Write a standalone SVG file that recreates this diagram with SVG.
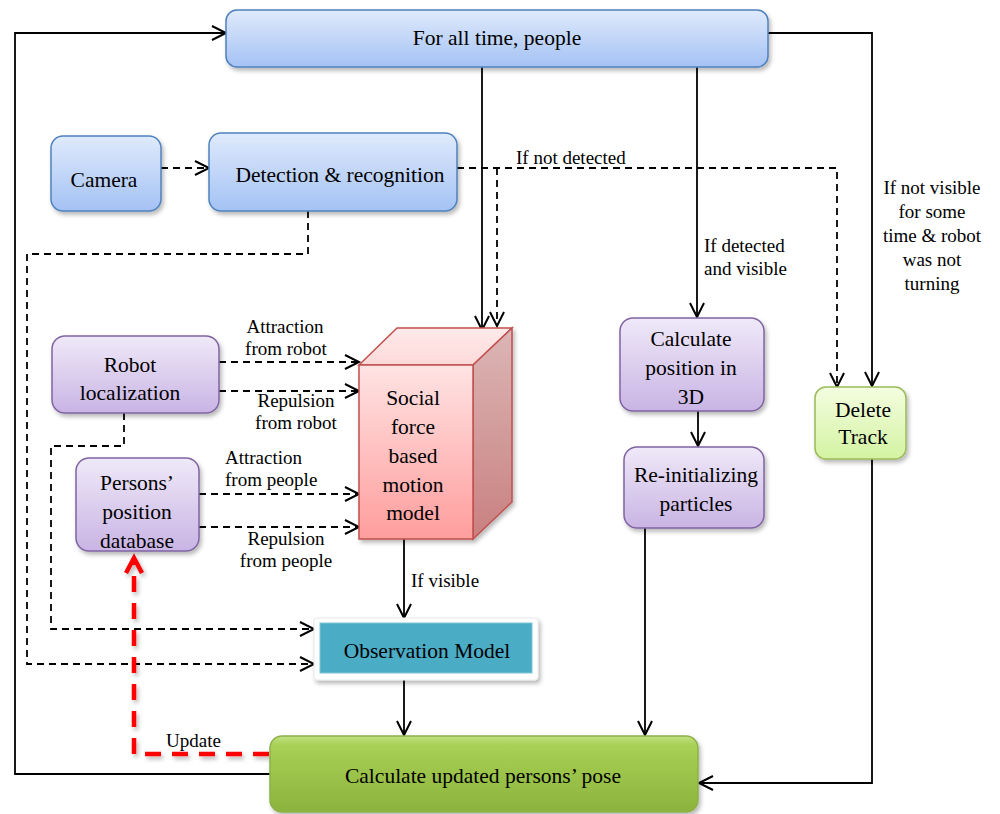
<svg xmlns="http://www.w3.org/2000/svg" width="1000" height="814" viewBox="0 0 1000 814" font-family="'Liberation Serif', Tinos, 'Times New Roman', Times, 'Nimbus Roman', 'Nimbus Roman No9 L', FreeSerif, 'Noto Serif', 'DejaVu Serif', serif">
<defs>
<style>
text{font-family:'Liberation Serif',Tinos,'Times New Roman',Times,'Nimbus Roman','Nimbus Roman No9 L',FreeSerif,'Noto Serif','DejaVu Serif',serif}
.box{font-size:21.5px;fill:#000;text-anchor:middle}
.lbl{font-size:19px;fill:#000}
.mid{text-anchor:middle}
.ln{fill:none;stroke:#000;stroke-width:1.8}
.ds{stroke-dasharray:7 5}
.red{fill:none;stroke:#ff0000;stroke-width:4.5;stroke-dasharray:16 11}
</style>
<linearGradient id="gBlue" x1="0" y1="0" x2="0" y2="1"><stop offset="0" stop-color="#dfeafc"/><stop offset="1" stop-color="#a4c2f4"/></linearGradient>
<linearGradient id="gPurp" x1="0" y1="0" x2="0" y2="1"><stop offset="0" stop-color="#efe9f8"/><stop offset="1" stop-color="#c9b4e4"/></linearGradient>
<linearGradient id="gLime" x1="0" y1="0" x2="0" y2="1"><stop offset="0" stop-color="#f3fde0"/><stop offset="1" stop-color="#d4f3a2"/></linearGradient>
<linearGradient id="gGreen" x1="0" y1="0" x2="0" y2="1"><stop offset="0" stop-color="#c3e184"/><stop offset="0.12" stop-color="#a8d055"/><stop offset="1" stop-color="#8cb33c"/></linearGradient>
<linearGradient id="gFront" x1="0" y1="0" x2="0" y2="1"><stop offset="0" stop-color="#ffe3e3"/><stop offset="1" stop-color="#ff9d9d"/></linearGradient>
<linearGradient id="gTop" x1="0" y1="0" x2="0" y2="1"><stop offset="0" stop-color="#ffeaea"/><stop offset="1" stop-color="#fdd9d9"/></linearGradient>
<linearGradient id="gSide" x1="0" y1="0" x2="0" y2="1"><stop offset="0" stop-color="#dcb6b6"/><stop offset="1" stop-color="#c98080"/></linearGradient>
<filter id="sh" x="-10%" y="-10%" width="130%" height="140%"><feDropShadow dx="2" dy="3" stdDeviation="2" flood-color="#000" flood-opacity="0.28"/></filter>
<marker id="ah" markerWidth="18" markerHeight="18" refX="15" refY="8" orient="auto" markerUnits="userSpaceOnUse"><path d="M1,1 L15,8 L1,15" fill="none" stroke="#000" stroke-width="2"/></marker>
<marker id="ahr" markerWidth="22" markerHeight="22" refX="17" refY="10" orient="auto" markerUnits="userSpaceOnUse"><path d="M2,2 L17,10 L2,18" fill="none" stroke="#ff0000" stroke-width="4.5"/></marker>
</defs>
<rect width="1000" height="814" fill="#fff"/>

<g id="connectors">
<path class="ln" d="M270,774 H15 V33 H226" marker-end="url(#ah)"/>
<path class="ln" d="M482,67 V330" marker-end="url(#ah)"/>
<path class="ln" d="M697,67 V317" marker-end="url(#ah)"/>
<path class="ln" d="M768,33 H872 V386" marker-end="url(#ah)"/>
<path class="ln ds" d="M161,168 H209" marker-end="url(#ah)"/>
<path class="ln ds" d="M457,168 H837 V387" marker-end="url(#ah)"/>
<path class="ln ds" d="M497,168 V326" marker-end="url(#ah)"/>
<path class="ln ds" d="M308,211 V254 H27 V664 H314" marker-end="url(#ah)"/>
<path class="ln ds" d="M219,362 H359" marker-end="url(#ah)"/>
<path class="ln ds" d="M219,391 H359" marker-end="url(#ah)"/>
<path class="ln ds" d="M124,413 V446 H51 V629 H314" marker-end="url(#ah)"/>
<path class="ln ds" d="M199,494 H359" marker-end="url(#ah)"/>
<path class="ln ds" d="M199,527 H359" marker-end="url(#ah)"/>
<path class="ln" d="M404,539 V618" marker-end="url(#ah)"/>
<path class="ln" d="M404,680 V735" marker-end="url(#ah)"/>
<path class="ln" d="M698,411 V446" marker-end="url(#ah)"/>
<path class="ln" d="M645,528 V735" marker-end="url(#ah)"/>
<path class="ln" d="M872,459 V783 H699" marker-end="url(#ah)"/>
<path class="red" d="M269,754 H134 V558" marker-end="url(#ahr)" filter="url(#sh)"/>
<text class="lbl" x="516" y="164">If not detected</text>
<text class="lbl" x="704" y="252">If detected</text>
<text class="lbl" x="704" y="275">and visible</text>
<text class="lbl mid" x="932" y="194">If not visible</text>
<text class="lbl mid" x="932" y="218">for some</text>
<text class="lbl mid" x="932" y="242">time &amp; robot</text>
<text class="lbl mid" x="932" y="266">was not</text>
<text class="lbl mid" x="932" y="290">turning</text>
<text class="lbl mid" x="285" y="333">Attraction</text>
<text class="lbl mid" x="286" y="355">from robot</text>
<text class="lbl mid" x="296" y="407">Repulsion</text>
<text class="lbl mid" x="296" y="429">from robot</text>
<text class="lbl" x="225" y="464">Attraction</text>
<text class="lbl" x="225" y="486">from people</text>
<text class="lbl mid" x="286" y="545">Repulsion</text>
<text class="lbl mid" x="286" y="567">from people</text>
<text class="lbl" x="411" y="587">If visible</text>
<text class="lbl" x="166" y="747">Update</text>
</g>

<g id="top">
<rect x="226" y="10" width="542" height="57" rx="11" fill="url(#gBlue)" stroke="#4f81bd" stroke-width="1.5" filter="url(#sh)"/>
<text class="box" x="497" y="45">For all time, people</text>
</g>
<g id="camera">
<rect x="51" y="136" width="110" height="75" rx="12" fill="url(#gBlue)" stroke="#4f81bd" stroke-width="1.5" filter="url(#sh)"/>
<text class="box" x="104" y="187">Camera</text>
</g>
<g id="detection">
<rect x="209" y="133" width="248" height="78" rx="12" fill="url(#gBlue)" stroke="#4f81bd" stroke-width="1.5" filter="url(#sh)"/>
<text class="box" x="340" y="182">Detection &amp; recognition</text>
</g>
<g id="robot">
<rect x="52" y="336" width="167" height="77" rx="13" fill="url(#gPurp)" stroke="#8064a2" stroke-width="1.5" filter="url(#sh)"/>
<text class="box" x="130" y="372">Robot</text>
<text class="box" x="130" y="400">localization</text>
</g>
<g id="persons">
<rect x="76" y="458" width="123" height="93" rx="13" fill="url(#gPurp)" stroke="#8064a2" stroke-width="1.5" filter="url(#sh)"/>
<text class="box" x="137" y="490">Persons’</text>
<text class="box" x="137" y="519">position</text>
<text class="box" x="137" y="548">database</text>
</g>
<g id="social">
<g filter="url(#sh)">
<path d="M359,365 L397,328 L512,328 L473,365 Z" fill="url(#gTop)" stroke="#c0504d" stroke-width="1.5"/>
<path d="M473,365 L512,328 L512,502 L473,539 Z" fill="url(#gSide)" stroke="#c0504d" stroke-width="1.5"/>
<rect x="359" y="365" width="114" height="174" fill="url(#gFront)" stroke="#c0504d" stroke-width="1.5"/>
</g>
<text class="box" x="413" y="405">Social</text>
<text class="box" x="413" y="434">force</text>
<text class="box" x="413" y="463">based</text>
<text class="box" x="413" y="492">motion</text>
<text class="box" x="413" y="520">model</text>
</g>
<g id="calc3d">
<rect x="620" y="318" width="144" height="93" rx="13" fill="url(#gPurp)" stroke="#8064a2" stroke-width="1.5" filter="url(#sh)"/>
<text class="box" x="691" y="346">Calculate</text>
<text class="box" x="691" y="375">position in</text>
<text class="box" x="691" y="404">3D</text>
</g>
<g id="reinit">
<rect x="624" y="447" width="140" height="81" rx="13" fill="url(#gPurp)" stroke="#8064a2" stroke-width="1.5" filter="url(#sh)"/>
<text class="box" x="696" y="482">Re-initializing</text>
<text class="box" x="696" y="511">particles</text>
</g>
<g id="delete">
<rect x="815" y="387" width="91" height="72" rx="11" fill="url(#gLime)" stroke="#9bbb59" stroke-width="1.5" filter="url(#sh)"/>
<text class="box" x="863" y="417">Delete</text>
<text class="box" x="863" y="444">Track</text>
</g>
<g id="observation">
<rect x="314" y="618" width="224" height="62" rx="3" fill="#fff" stroke="#e8e8e8" stroke-width="1" filter="url(#sh)"/>
<rect x="320" y="623" width="212" height="50" fill="#4bacc6" stroke="#7fc6da" stroke-width="1"/>
<text class="box" x="427" y="658">Observation Model</text>
</g>
<g id="update">
<rect x="270" y="736" width="428" height="76" rx="12" fill="url(#gGreen)" stroke="#8db04b" stroke-width="1.5" filter="url(#sh)"/>
<text class="box" x="483" y="783">Calculate updated persons’ pose</text>
</g>
</svg>
